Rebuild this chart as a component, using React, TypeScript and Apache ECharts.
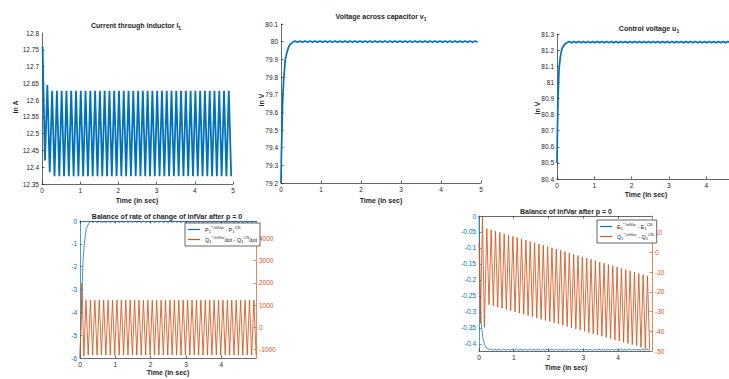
import React, { useEffect, useRef } from "react";
import * as echarts from "echarts";

// ---------- data ----------
const PERIOD = 0.125;

// Current through inductor i1 (A)
const currentStart = 0.015;
const currentPeaks = [
  12.76, 12.645, 12.628, 12.628, 12.628, 12.628, 12.628, 12.628, 12.628, 12.628,
  12.628, 12.628, 12.628, 12.628, 12.628, 12.628, 12.628, 12.628, 12.628, 12.628,
  12.628, 12.628, 12.628, 12.628, 12.628, 12.628, 12.628, 12.628, 12.628, 12.628,
  12.628, 12.628, 12.628, 12.628, 12.628, 12.628, 12.628, 12.628, 12.628, 12.628,
];
const currentTroughs = [
  12.42, 12.385, 12.373, 12.373, 12.373, 12.373, 12.373, 12.373, 12.373, 12.373,
  12.373, 12.373, 12.373, 12.373, 12.373, 12.373, 12.373, 12.373, 12.373, 12.373,
  12.373, 12.373, 12.373, 12.373, 12.373, 12.373, 12.373, 12.373, 12.373, 12.373,
  12.373, 12.373, 12.373, 12.373, 12.373, 12.373, 12.373, 12.373, 12.373, 12.373,
];

// Voltage across capacitor v1 (V)
const voltageRiseT = [0, 0.01, 0.025, 0.042, 0.067, 0.09, 0.108, 0.15, 0.19, 0.23, 0.28];
const voltageRiseV = [79.2, 79.36, 79.5, 79.67, 79.78, 79.85, 79.9, 79.94, 79.97, 79.985, 79.995];
const voltageRippleStart = 0.35;
const voltagePeaks = [
  80.004, 80.004, 80.004, 80.004, 80.004, 80.004, 80.004, 80.004, 80.004, 80.004,
  80.004, 80.004, 80.004, 80.004, 80.004, 80.004, 80.004, 80.004, 80.004, 80.004,
  80.004, 80.004, 80.004, 80.004, 80.004, 80.004, 80.004, 80.004, 80.004, 80.004,
  80.004, 80.004, 80.004, 80.004, 80.004, 80.004, 80.004,
];
const voltageTroughs = [
  79.997, 79.997, 79.997, 79.997, 79.997, 79.997, 79.997, 79.997, 79.997, 79.997,
  79.997, 79.997, 79.997, 79.997, 79.997, 79.997, 79.997, 79.997, 79.997, 79.997,
  79.997, 79.997, 79.997, 79.997, 79.997, 79.997, 79.997, 79.997, 79.997, 79.997,
  79.997, 79.997, 79.997, 79.997, 79.997, 79.997, 79.997,
];

// Control voltage u1 (V)
const controlRiseT = [0, 0.01, 0.027, 0.054, 0.09, 0.134, 0.2, 0.26];
const controlRiseV = [80.5, 80.68, 80.89, 81.08, 81.16, 81.21, 81.235, 81.245];
const controlRippleStart = 0.33;
const controlPeaks = [
  81.254, 81.254, 81.254, 81.254, 81.254, 81.254, 81.254, 81.254, 81.254, 81.254,
  81.254, 81.254, 81.254, 81.254, 81.254, 81.254, 81.254, 81.254, 81.254, 81.254,
  81.254, 81.254, 81.254, 81.254, 81.254, 81.254, 81.254, 81.254, 81.254, 81.254,
  81.254, 81.254, 81.254, 81.254, 81.254, 81.254, 81.254,
];
const controlTroughs = [
  81.246, 81.246, 81.246, 81.246, 81.246, 81.246, 81.246, 81.246, 81.246, 81.246,
  81.246, 81.246, 81.246, 81.246, 81.246, 81.246, 81.246, 81.246, 81.246, 81.246,
  81.246, 81.246, 81.246, 81.246, 81.246, 81.246, 81.246, 81.246, 81.246, 81.246,
  81.246, 81.246, 81.246, 81.246, 81.246, 81.246, 81.246,
];

// Balance of rate of change of InfVar: P1 difference (left axis)
const rateBlueT = [0, 0.03, 0.057, 0.086, 0.134, 0.18, 0.25];
const rateBlueV = [-6, -4.4, -3.0, -1.7, -0.83, -0.32, -0.1];
const rateBlueRippleStart = 0.3;
const rateBluePeaks = [
  0, 0, 0, 0, 0, 0, 0, 0, 0, 0, 0, 0, 0, 0, 0, 0, 0, 0, 0, 0,
  0, 0, 0, 0, 0, 0, 0, 0, 0, 0, 0, 0, 0, 0, 0, 0, 0, 0,
];
const rateBlueTroughs = [
  -0.07, -0.07, -0.07, -0.07, -0.07, -0.07, -0.07, -0.07, -0.07, -0.07,
  -0.07, -0.07, -0.07, -0.07, -0.07, -0.07, -0.07, -0.07, -0.07, -0.07,
  -0.07, -0.07, -0.07, -0.07, -0.07, -0.07, -0.07, -0.07, -0.07, -0.07,
  -0.07, -0.07, -0.07, -0.07, -0.07, -0.07, -0.07, -0.07,
];
// Q1 dot difference (right axis)
const rateOrangeT = [0, 0.056, 0.11];
const rateOrangeV = [-1380, 1980, -1300];
const rateOrangeStart = 0.17;
const rateOrangePeaks = [
  1220, 1220, 1220, 1220, 1220, 1220, 1220, 1220, 1220, 1220,
  1220, 1220, 1220, 1220, 1220, 1220, 1220, 1220, 1220, 1220,
  1220, 1220, 1220, 1220, 1220, 1220, 1220, 1220, 1220, 1220,
  1220, 1220, 1220, 1220, 1220, 1220, 1220, 1220, 1220,
];
const rateOrangeTroughs = [
  -1250, -1250, -1250, -1250, -1250, -1250, -1250, -1250, -1250, -1250,
  -1250, -1250, -1250, -1250, -1250, -1250, -1250, -1250, -1250, -1250,
  -1250, -1250, -1250, -1250, -1250, -1250, -1250, -1250, -1250, -1250,
  -1250, -1250, -1250, -1250, -1250, -1250, -1250, -1250, -1250,
];

// Balance of InfVar: E1 difference (left axis)
const balBlueT = [0, 0.03, 0.06, 0.08, 0.11, 0.165, 0.22, 0.29];
const balBlueV = [0, -0.2, -0.33, -0.35, -0.38, -0.403, -0.413, -0.417];
const balBlueRippleStart = 0.33;
const balBluePeaks = [
  -0.4165, -0.4165, -0.4165, -0.4165, -0.4165, -0.4165, -0.4165, -0.4165, -0.4165, -0.4165,
  -0.4165, -0.4165, -0.4165, -0.4165, -0.4165, -0.4165, -0.4165, -0.4165, -0.4165, -0.4165,
  -0.4165, -0.4165, -0.4165, -0.4165, -0.4165, -0.4165, -0.4165, -0.4165, -0.4165, -0.4165,
  -0.4165, -0.4165, -0.4165, -0.4165, -0.4165, -0.4165, -0.4165,
];
const balBlueTroughs = [
  -0.4195, -0.4195, -0.4195, -0.4195, -0.4195, -0.4195, -0.4195, -0.4195, -0.4195, -0.4195,
  -0.4195, -0.4195, -0.4195, -0.4195, -0.4195, -0.4195, -0.4195, -0.4195, -0.4195, -0.4195,
  -0.4195, -0.4195, -0.4195, -0.4195, -0.4195, -0.4195, -0.4195, -0.4195, -0.4195, -0.4195,
  -0.4195, -0.4195, -0.4195, -0.4195, -0.4195, -0.4195, -0.4195,
];
// Q1 difference (right axis)
const balOrangeT = [0, 0.04, 0.1, 0.155];
const balOrangeV = [5, -36, 18, -38];
const balOrangeStart = 0.225;
const balOrangePeaks = [
  12.0, 11.4, 10.7, 10.1, 9.4, 8.8, 8.1, 7.5, 6.8, 6.2,
  5.5, 4.9, 4.2, 3.6, 2.9, 2.3, 1.6, 1.0, 0.3, -0.3,
  -1.0, -1.6, -2.3, -2.9, -3.6, -4.2, -4.9, -5.5, -6.2, -6.8,
  -7.5, -8.1, -8.8, -9.4, -10.1, -10.7, -11.4, -12.0,
];
const balOrangeTroughs = [
  -26.5, -27.1, -27.7, -28.3, -29.0, -29.6, -30.2, -30.8, -31.4, -32.0,
  -32.7, -33.3, -33.9, -34.5, -35.1, -35.7, -36.3, -37.0, -37.6, -38.2,
  -38.8, -39.4, -40.0, -40.7, -41.3, -41.9, -42.5, -43.1, -43.7, -44.3,
  -45.0, -45.6, -46.2, -46.8, -47.4, -48.1, -48.8, -49.6,
];

const timeTicksShort = [0, 1, 2, 3, 4];
const currentTicksLower = [12.35, 12.4, 12.45, 12.5, 12.55, 12.6, 12.65, 12.7, 12.75];
const currentTopLabel = "12.8";
const rateRightTicks = [-1000, 0, 1000, 2000, 3000, 4000];
const balLeftTicks = [-0.4, -0.35, -0.3, -0.25, -0.2, -0.15, -0.1, -0.05, 0];
const balRightTicks = [-50, -40, -30, -20, -10, 0, 10];

// ---------- helpers ----------
const pairs = (ts: number[], vs: number[]) => ts.map((t, i) => [t, vs[i]]);
const cycles = (start: number, peaks: number[], troughs: number[]) => {
  const out: number[][] = [];
  for (let k = 0; k < peaks.length; k++) {
    out.push([start + k * PERIOD, peaks[k]]);
    out.push([start + k * PERIOD + PERIOD / 2, troughs[k]]);
  }
  return out;
};

const BLUE = "#0072BD";
const ORANGE = "#D95319";
const DARK = "#262626";
const FONT = "'Liberation Sans', Arial, Helvetica, sans-serif";
const fmt = (v: number) => String(Math.round(v * 1000) / 1000);

const subRich = {
  s: { fontSize: 5, fontWeight: "bold", fontFamily: FONT, verticalAlign: "bottom", lineHeight: 11, fill: DARK, color: DARK },
};

export default function App() {
  const ref = useRef<HTMLDivElement>(null);
  useEffect(() => {
    if (!ref.current) return;
    const chart = echarts.init(ref.current, null, { renderer: "svg" });

    const grids = [
      { left: 42, top: 33, width: 191, height: 151 },
      { left: 281, top: 24, width: 200, height: 159 },
      { left: 557, top: 34, width: 172, height: 145 },
      { left: 80, top: 221, width: 176, height: 137 },
      { left: 479, top: 216, width: 173, height: 135 },
    ];

    const labelBase = (color: string) => ({
      fontSize: 6.5,
      color,
      margin: 3,
      fontFamily: FONT,
      formatter: fmt,
      hideOverlap: false,
      showMinLabel: true,
      showMaxLabel: true,
      lineHeight: 7,
    });
    const custom = (color: string, vals: number[], showLabel = true) => ({
      axisTick: { show: true, inside: true, length: 2.5, customValues: vals, lineStyle: { color, width: 0.7 } },
      axisLabel: { ...labelBase(color), show: showLabel, customValues: vals },
    });

    const xBase = (gridIndex: number, extra: any = {}) => ({
      type: "value",
      gridIndex,
      min: 0,
      max: 5,
      interval: 1,
      axisLine: { show: true, onZero: false, lineStyle: { color: DARK, width: 0.7 } },
      axisTick: { show: true, inside: true, length: 2.5, lineStyle: { color: DARK, width: 0.7 } },
      axisLabel: labelBase(DARK),
      splitLine: { show: false },
      ...extra,
    });
    const yBase = (gridIndex: number, color: string, extra: any = {}) => ({
      type: "value",
      gridIndex,
      axisLine: { show: true, onZero: false, lineStyle: { color, width: 0.7 } },
      axisTick: { show: true, inside: true, length: 2.5, lineStyle: { color, width: 0.7 } },
      axisLabel: labelBase(color),
      splitLine: { show: false },
      ...extra,
    });

    const legendLabels: Record<string, string> = {
      P1: "P{s|1}{p|*,InfVar} - P{s|1}{p|CN}",
      Q1dot: "Q{s|1}{p|*,InfVar}dot - Q{s|1}{p|CN}dot",
      E1: "E{s|1}{p|*,InfVar} - E{s|1}{p|CN}",
      Q1: "Q{s|1}{p|*,InfVar} - Q{s|1}{p|CN}",
    };
    const legendRich = {
      s: { fontSize: 4, verticalAlign: "bottom", lineHeight: 9, fontFamily: FONT, color: DARK },
      p: { fontSize: 4, verticalAlign: "top", lineHeight: 9, fontFamily: FONT, color: DARK },
    };
    const legendBase = (data: string[], left: number, top: number) => ({
      data,
      left,
      top,
      orient: "vertical",
      icon: "rect",
      itemWidth: 12,
      itemHeight: 1.2,
      itemGap: 1,
      padding: [2, 3, 2, 3],
      borderColor: DARK,
      borderWidth: 0.7,
      backgroundColor: "#fff",
      textStyle: { fontSize: 5.5, color: DARK, fontFamily: FONT, lineHeight: 9, rich: legendRich },
      formatter: (name: string) => legendLabels[name],
    });

    const text = (x: number, y: number, t: string, extra: any = {}) => ({
      type: "text",
      x,
      y,
      silent: true,
      style: {
        text: t,
        fill: DARK,
        fontSize: 7,
        fontWeight: "bold",
        fontFamily: FONT,
        align: "center",
        verticalAlign: "middle",
        lineHeight: 11,
        rich: subRich,
      },
      ...extra,
    });

    const lineSeries = (name: string, data: number[][], xi: number, yi: number, color: string, width: number, opacity = 1) => ({
      name,
      type: "line",
      xAxisIndex: xi,
      yAxisIndex: yi,
      data,
      showSymbol: false,
      symbol: "none",
      clip: true,
      silent: true,
      lineStyle: { color, width, opacity },
      itemStyle: { color },
    });

    const option: any = {
      animation: false,
      backgroundColor: "#fff",
      grid: grids,
      xAxis: [
        xBase(0),
        xBase(1),
        xBase(2, { max: 4.61, ...custom(DARK, timeTicksShort) }),
        xBase(3, { max: 4.98, ...custom(DARK, timeTicksShort) }),
        xBase(4, { max: 4.98, ...custom(DARK, timeTicksShort) }),
        xBase(3, { max: 4.98, position: "top", ...custom(DARK, timeTicksShort, false) }),
        xBase(4, { max: 4.98, position: "top", ...custom(DARK, timeTicksShort, false) }),
      ],
      yAxis: [
        yBase(0, DARK, { min: 12.35, max: 12.8, ...custom(DARK, currentTicksLower) }),
        yBase(1, DARK, { min: 79.2, max: 80.1, interval: 0.1 }),
        yBase(2, DARK, { min: 80.4, max: 81.3, interval: 0.1 }),
        yBase(3, BLUE, { min: -6, max: 0, interval: 1 }),
        yBase(3, ORANGE, { position: "right", min: -1380, max: 4780, ...custom(ORANGE, rateRightTicks) }),
        yBase(4, BLUE, { min: -0.422, max: 0, ...custom(BLUE, balLeftTicks) }),
        yBase(4, ORANGE, { position: "right", min: -50, max: 18.4, ...custom(ORANGE, balRightTicks) }),
      ],
      legend: [legendBase(["P1", "Q1dot"], 185, 223), legendBase(["E1", "Q1"], 597, 220)],
      series: [
        lineSeries("current", cycles(currentStart, currentPeaks, currentTroughs), 0, 0, BLUE, 1.8),
        lineSeries(
          "voltage",
          [...pairs(voltageRiseT, voltageRiseV), ...cycles(voltageRippleStart, voltagePeaks, voltageTroughs)],
          1, 1, BLUE, 1.7
        ),
        lineSeries(
          "control",
          [...pairs(controlRiseT, controlRiseV), ...cycles(controlRippleStart, controlPeaks, controlTroughs)],
          2, 2, BLUE, 1.7
        ),
        lineSeries(
          "P1",
          [...pairs(rateBlueT, rateBlueV), ...cycles(rateBlueRippleStart, rateBluePeaks, rateBlueTroughs)],
          3, 3, BLUE, 1, 0.75
        ),
        lineSeries(
          "Q1dot",
          [...pairs(rateOrangeT, rateOrangeV), ...cycles(rateOrangeStart, rateOrangePeaks, rateOrangeTroughs)],
          3, 4, ORANGE, 1, 0.85
        ),
        lineSeries(
          "E1",
          [...pairs(balBlueT, balBlueV), ...cycles(balBlueRippleStart, balBluePeaks, balBlueTroughs)],
          4, 5, BLUE, 1, 0.75
        ),
        lineSeries(
          "Q1",
          [...pairs(balOrangeT, balOrangeV), ...cycles(balOrangeStart, balOrangePeaks, balOrangeTroughs)],
          4, 6, ORANGE, 1, 0.85
        ),
      ],
      graphic: [
        {
          type: "text",
          x: 39,
          y: 33,
          silent: true,
          style: {
            text: currentTopLabel,
            fill: DARK,
            fontSize: 6.5,
            fontFamily: FONT,
            align: "right",
            verticalAlign: "middle",
          },
        },
        text(136, 25, "Current through inductor I{s|1}"),
        text(381, 16, "Voltage across capacitor v{s|1}"),
        text(649, 28, "Control voltage u{s|1}"),
        text(167, 216, "Balance of rate of change of InfVar after p = 0"),
        text(566, 211, "Balance of InfVar after p = 0"),
        text(137, 200, "Time (in sec)"),
        text(381, 200, "Time (in sec)"),
        text(646, 194, "Time (in sec)"),
        text(168, 372, "Time (in sec)"),
        text(566, 367, "Time (in sec)"),
        text(15, 107, "in A", { rotation: Math.PI / 2 }),
        text(261, 100, "in V", { rotation: Math.PI / 2 }),
        text(537, 108, "in V", { rotation: Math.PI / 2 }),
      ],
    };
    chart.setOption(option);
    return () => chart.dispose();
  }, []);
  return (
    <div
      ref={ref}
      style={{ position: "fixed", left: 0, top: 0, width: 729, height: 379, background: "#fff" }}
    />
  );
}
